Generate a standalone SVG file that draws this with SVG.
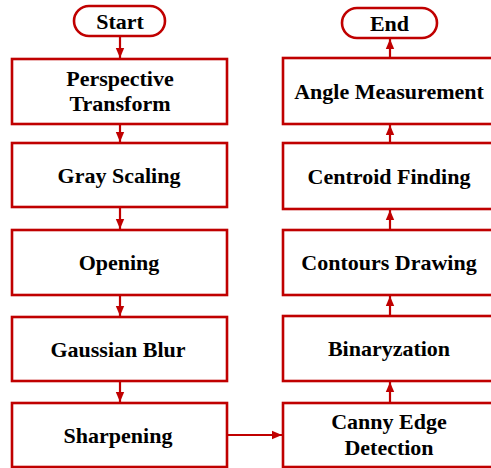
<svg xmlns="http://www.w3.org/2000/svg" width="491" height="468" viewBox="0 0 491 468">
  <style>
    .box { fill: #ffffff; stroke: #C00000; stroke-width: 2.6; }
    .lbl { font-family: "Liberation Serif", "Times New Roman", serif; font-weight: bold; font-size: 22px; fill: #000000; text-anchor: middle; }
    .conn { fill: none; stroke: #C00000; stroke-width: 2.2; marker-end: url(#arrow); }
  </style>
  <defs>
    <marker id="arrow" markerUnits="userSpaceOnUse" markerWidth="10" markerHeight="10" viewBox="0 0 10 10" refX="10" refY="5" orient="auto">
      <path d="M0,0.8 L10,5 L0,9.2 Z" fill="#C00000"/>
    </marker>
  </defs>
  <rect width="491" height="468" fill="#ffffff"/>

  <!-- processing steps, left column -->
  <g id="start">
    <rect class="box" x="74" y="6" width="91" height="30" rx="15" ry="15"/>
    <text class="lbl" x="120" y="28.5">Start</text>
  </g>
  <g id="perspective-transform">
    <rect class="box" x="12" y="59" width="215" height="65"/>
    <text class="lbl" x="120" y="86">Perspective</text>
    <text class="lbl" x="120" y="111">Transform</text>
  </g>
  <g id="gray-scaling">
    <rect class="box" x="12" y="143" width="215" height="64"/>
    <text class="lbl" x="119" y="183">Gray Scaling</text>
  </g>
  <g id="opening">
    <rect class="box" x="12" y="230" width="215" height="65"/>
    <text class="lbl" x="119" y="270">Opening</text>
  </g>
  <g id="gaussian-blur">
    <rect class="box" x="12" y="317" width="215" height="64"/>
    <text class="lbl" x="118" y="357">Gaussian Blur</text>
  </g>
  <g id="sharpening">
    <rect class="box" x="12" y="403" width="215" height="64"/>
    <text class="lbl" x="118" y="443">Sharpening</text>
  </g>

  <!-- processing steps, right column -->
  <g id="canny-edge-detection">
    <rect class="box" x="283" y="403" width="215" height="64"/>
    <text class="lbl" x="389" y="429">Canny Edge</text>
    <text class="lbl" x="389" y="455">Detection</text>
  </g>
  <g id="binaryzation">
    <rect class="box" x="283" y="316" width="215" height="65"/>
    <text class="lbl" x="389" y="356">Binaryzation</text>
  </g>
  <g id="contours-drawing">
    <rect class="box" x="283" y="230" width="215" height="65"/>
    <text class="lbl" x="389" y="270">Contours Drawing</text>
  </g>
  <g id="centroid-finding">
    <rect class="box" x="283" y="143" width="215" height="66"/>
    <text class="lbl" x="389" y="184">Centroid Finding</text>
  </g>
  <g id="angle-measurement">
    <rect class="box" x="283" y="58" width="215" height="66"/>
    <text class="lbl" x="389" y="99">Angle Measurement</text>
  </g>
  <g id="end">
    <rect class="box" x="342" y="8" width="95" height="30" rx="15" ry="15"/>
    <text class="lbl" x="389.5" y="31">End</text>
  </g>

  <!-- connectors -->
  <g id="connectors">
    <line class="conn" x1="120" y1="36" x2="120" y2="58"/>
    <line class="conn" x1="120" y1="124" x2="120" y2="142"/>
    <line class="conn" x1="120" y1="207" x2="120" y2="229"/>
    <line class="conn" x1="120" y1="295" x2="120" y2="316"/>
    <line class="conn" x1="120" y1="381" x2="120" y2="402"/>
    <line class="conn" x1="227" y1="435" x2="282" y2="435"/>
    <line class="conn" x1="390" y1="403" x2="390" y2="382"/>
    <line class="conn" x1="390" y1="316" x2="390" y2="296"/>
    <line class="conn" x1="390" y1="230" x2="390" y2="210"/>
    <line class="conn" x1="390" y1="143" x2="390" y2="125"/>
    <line class="conn" x1="390" y1="58" x2="390" y2="39"/>
  </g>
</svg>
